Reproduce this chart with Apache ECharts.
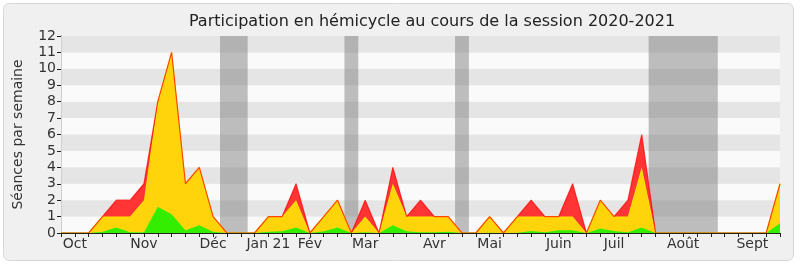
<!DOCTYPE html>
<html>
<head>
<meta charset="utf-8">
<script src="https://cdn.jsdelivr.net/npm/echarts@6/dist/echarts.min.js"></script>
<style>
html,body{margin:0;padding:0;background:#ffffff;}
#c{width:800px;height:267px;}
</style>
</head>
<body>
<div id="c"></div>
<script>
// Week index 0..52 (session 2020-2021)
const weeks = [0,1,2,3,4,5,6,7,8,9,10,11,12,13,14,15,16,17,18,19,20,21,22,23,24,25,26,27,28,29,30,31,32,33,34,35,36,37,38,39,40,41,42,43,44,45,46,47,48,49,50,51,52];
// Month tick labels and the week index they sit on
const monthLabels = ['Oct','Nov','Déc','Jan 21','Fév','Mar','Avr','Mai','Juin','Juil','Août','Sept'];
const monthIdx    = [1, 6, 11, 15, 18, 22, 27, 31, 36, 40, 45, 50];
// Vacation periods (week index ranges)
const vacStart = [11.5, 20.5, 28.5, 42.5];
const vacEnd   = [13.5, 21.5, 29.5, 47.5];
// Stacked components, per week
const greenVals = [0,0,0,0.08,0.33,0.05,0.05,1.6,1.14,0.16,0.47,0.08,0,0,0,0.08,0.1,0.33,0,0.1,0.33,0,0.05,0,0.47,0.1,0.04,0.04,0.08,0,0,0.02,0,0.02,0.12,0.05,0.16,0.16,0,0.28,0.12,0.05,0.33,0,0,0,0,0,0,0,0,0,0.6];
const yellowVals = [0,0,0,0.92,0.67,0.95,1.95,6.4,9.86,2.84,3.53,0.92,0,0,0,0.92,0.9,1.67,0,0.9,1.67,0,0.95,0,2.53,0.9,0.96,0.96,0.92,0,0,0.98,0,0.98,0.88,0.95,0.84,0.84,0,1.72,0.88,0.95,3.67,0,0,0,0,0,0,0,0,0,2.4];
const redVals = [0,0,0,0,1,1,1,0,0,0,0,0,0,0,0,0,0,1,0,0,0,0,1,0,1,0,1,0,0,0,0,0,0,0,1,0,0,2,0,0,0,1,2,0,0,0,0,0,0,0,0,0,0];

const FONT = 'DejaVu Sans';
const labelOf = v => { const k = monthIdx.indexOf(Math.round(v)); return k >= 0 ? monthLabels[k] : ''; };

const chart = echarts.init(document.getElementById('c'), null, {renderer: 'canvas'});
chart.setOption({
  animation: false,
  backgroundColor: 'transparent',
  graphic: [{
    type: 'rect', z: -10, silent: true,
    shape: {x: 3.5, y: 3.5, width: 790, height: 257, r: 6},
    style: {fill: '#f0f0f0', stroke: '#d6d6d6', lineWidth: 1}
  }],
  title: {
    text: 'Participation en hémicycle au cours de la session 2020-2021',
    left: 427, top: 9, textAlign: 'center',
    textStyle: {fontFamily: FONT, fontSize: 16, fontWeight: 'normal', color: '#222'}
  },
  grid: {left: 61, right: 20, top: 36, bottom: 34, containLabel: false},
  xAxis: [{
    type: 'category', data: weeks.map(String), boundaryGap: false,
    axisLine: {show: false}, axisTick: {show: false}, axisLabel: {show: false}, splitLine: {show: false}
  }, {
    type: 'value', min: 0, max: 52, interval: 1, position: 'bottom', z: 20,
    axisLine: {show: true, onZero: false, lineStyle: {color: '#222', width: 1}},
    axisTick: {show: true, length: 4, lineStyle: {color: '#222'}},
    axisLabel: {show: true, formatter: labelOf, fontFamily: FONT, fontSize: 14, color: '#333', margin: 4, showMinLabel: true, showMaxLabel: true},
    splitLine: {show: false}, splitArea: {show: false}
  }, {
    type: 'value', min: 0, max: 52, interval: 1, position: 'top',
    axisLine: {show: false},
    axisTick: {show: true, inside: true, length: 2, lineStyle: {color: '#222'}},
    axisLabel: {show: false},
    splitLine: {show: false}
  }],
  yAxis: [{
    type: 'value', min: 0, max: 12, interval: 1,
    name: 'Séances par semaine', nameLocation: 'middle', nameGap: 36,
    nameTextStyle: {fontFamily: FONT, fontSize: 14, color: '#333'},
    axisLine: {show: true, lineStyle: {color: '#222'}},
    axisTick: {show: true, length: 4, lineStyle: {color: '#222'}},
    axisLabel: {fontFamily: FONT, fontSize: 14, color: '#333', margin: 5},
    splitLine: {show: false},
    splitArea: {show: true, areaStyle: {color: ['#fafafa', '#e5e5e5']}}
  }, {
    type: 'value', min: 0, max: 12, interval: 1, position: 'right',
    axisLine: {show: true, lineStyle: {color: '#cfcfcf'}},
    axisTick: {show: false}, axisLabel: {show: false}, splitLine: {show: false}
  }],
  series: [{
    name: 'green', type: 'line', stack: 'total', data: greenVals, xAxisIndex: 0,
    symbol: 'none', z: 2,
    lineStyle: {color: '#33ee00', width: 1},
    areaStyle: {color: '#33ee00', opacity: 1}
  }, {
    name: 'yellow', type: 'line', stack: 'total', data: yellowVals, xAxisIndex: 0,
    symbol: 'none', z: 3,
    lineStyle: {color: '#ffea00', width: 1.2},
    areaStyle: {color: '#ffd40a', opacity: 1}
  }, {
    name: 'red', type: 'line', stack: 'total', data: redVals, xAxisIndex: 0,
    symbol: 'none', z: 4,
    lineStyle: {color: 'rgba(255,0,0,0.7)', width: 1.2},
    areaStyle: {color: '#ff3434', opacity: 1}
  }, {
    name: 'vacances', type: 'line', data: [], xAxisIndex: 1, z: 10, silent: true,
    markArea: {
      silent: true,
      itemStyle: {color: 'rgba(128,128,128,0.5)'},
      data: vacStart.map((s, i) => [{xAxis: s}, {xAxis: vacEnd[i]}])
    }
  }]
});
</script>
</body>
</html>
